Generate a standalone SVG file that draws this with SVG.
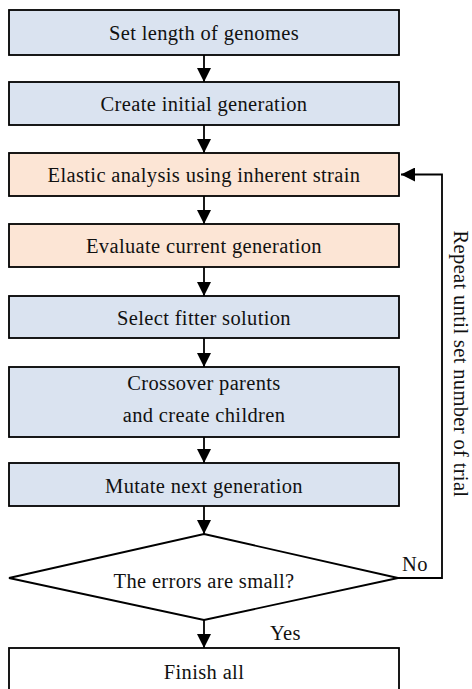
<svg xmlns="http://www.w3.org/2000/svg" width="472" height="689" viewBox="0 0 472 689">
<style>
.box{stroke:#000;stroke-width:1.8}
.blue{fill:#dae3f0}
.orange{fill:#fce5d5}
.white{fill:#fff}
text{font-family:'Liberation Serif','Times New Roman',Times,serif;font-size:20.5px;letter-spacing:0.35px;fill:#111}
.t{text-anchor:middle}
.c{stroke:#000;stroke-width:1.8;fill:none}
</style>
<defs>
<marker id="ah" viewBox="0 0 14 14" refX="14" refY="7" markerWidth="14" markerHeight="14" markerUnits="userSpaceOnUse" orient="auto">
<path d="M0,0 L14,7 L0,14 Z" fill="#000"/>
</marker>
</defs>
<g id="connectors">
<line class="c" x1="204" y1="55" x2="204" y2="82" marker-end="url(#ah)"/>
<line class="c" x1="204" y1="125" x2="204" y2="153" marker-end="url(#ah)"/>
<line class="c" x1="204" y1="196" x2="204" y2="224" marker-end="url(#ah)"/>
<line class="c" x1="204" y1="267" x2="204" y2="296" marker-end="url(#ah)"/>
<line class="c" x1="204" y1="338" x2="204" y2="367" marker-end="url(#ah)"/>
<line class="c" x1="204" y1="437" x2="204" y2="463" marker-end="url(#ah)"/>
<line class="c" x1="204" y1="506" x2="204" y2="534" marker-end="url(#ah)"/>
<line class="c" x1="204" y1="620" x2="204" y2="648" marker-end="url(#ah)"/>
<polyline class="c" points="398,578 442,578 442,174.5 401,174.5" marker-end="url(#ah)"/>
<text x="402" y="571">No</text>
<text x="270" y="640">Yes</text>
<text class="t" transform="translate(454,364) rotate(90)">Repeat until set number of trial</text>
</g>
<g id="n1"><rect class="box blue" x="9" y="10" width="390" height="45"/><text class="t" x="204" y="40">Set length of genomes</text></g>
<g id="n2"><rect class="box blue" x="9" y="82" width="390" height="43"/><text class="t" x="204" y="111">Create initial generation</text></g>
<g id="n3"><rect class="box orange" x="9" y="153" width="390" height="43"/><text class="t" x="204" y="182">Elastic analysis using inherent strain</text></g>
<g id="n4"><rect class="box orange" x="9" y="224" width="390" height="43"/><text class="t" x="204" y="253">Evaluate current generation</text></g>
<g id="n5"><rect class="box blue" x="9" y="296" width="390" height="42"/><text class="t" x="204" y="325">Select fitter solution</text></g>
<g id="n6"><rect class="box blue" x="9" y="367" width="390" height="70"/><text class="t" x="204" y="390">Crossover parents</text><text class="t" x="204" y="422">and create children</text></g>
<g id="n7"><rect class="box blue" x="9" y="463" width="390" height="43"/><text class="t" x="204" y="493">Mutate next generation</text></g>
<g id="n8"><polygon class="box white" points="204,534 398,578 204,620 9,578"/><text class="t" x="204" y="588">The errors are small?</text></g>
<g id="n9"><rect class="box white" x="9" y="648" width="390" height="60"/><text class="t" x="204" y="679">Finish all</text></g>
</svg>
